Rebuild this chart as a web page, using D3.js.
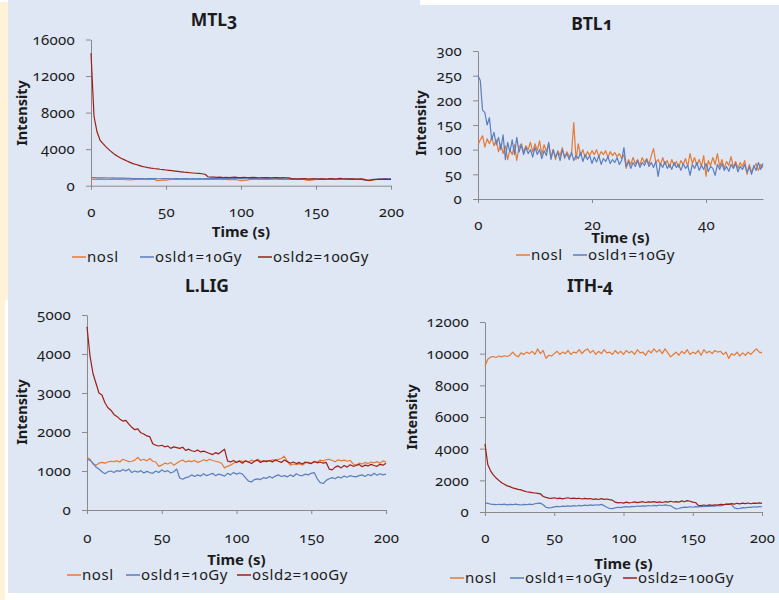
<!DOCTYPE html>
<html>
<head>
<meta charset="utf-8">
<script src="https://cdn.jsdelivr.net/npm/d3@7"></script>
<style>
body { margin: 0; background: #fff; }
svg text { font-family: "Noto Sans", sans-serif; fill: #1b1b1b; font-variant-numeric: oldstyle-nums; }
</style>
</head>
<body>
<svg id="chart" width="779" height="600"></svg>
<script>

const seriesNames = ['nosl', 'osld1=10Gy', 'osld2=100Gy'];
const seriesColors = ['#e47a36', '#5a7ec0', '#9e1e16'];

// MTL3 - one value every 2 s
const mtlStep = 2;
const mtlXMax = 200;
const mtlXTicks = [0, 50, 100, 150, 200];
const mtlYTicks = [0, 4000, 8000, 12000, 16000];
const mtlNosl = [
720,700,690,710,700,680,700,720,690,700,
710,690,650,640,660,700,690,710,700,680,
690,700,560,580,600,620,650,680,700,690,
700,710,690,680,700,690,710,700,680,700,
690,700,710,690,700,680,660,650,700,620,
560,580,620,680,700,710,690,700,680,690,
700,720,710,690,700,680,700,690,710,700,
680,690,600,580,640,680,700,710,690,700,
720,700,690,710,700,690,720,700,690,700,
710,690,580,560,620,680,700,720,700,690,
700];
const mtlOsld1 = [
900,880,860,870,850,860,840,850,830,840,
820,830,810,800,780,790,770,780,760,770,
780,790,770,760,780,770,790,760,770,780,
760,770,780,760,770,750,770,760,780,770,
790,780,800,790,780,770,790,780,800,790,
770,780,760,770,780,790,770,760,780,770,
780,760,770,780,750,760,740,730,750,740,
760,740,730,720,740,760,750,740,730,720,
740,750,730,720,710,730,760,740,720,700,
690,620,610,650,700,720,740,760,780,790,
790];
const mtlOsld2 = [
14500,7600,5900,5000,4600,4250,3950,3650,3400,3200,
3000,2850,2700,2550,2420,2320,2220,2120,2050,1980,
1920,1880,1850,1800,1760,1720,1680,1640,1600,1560,
1520,1480,1450,1420,1390,1360,1340,1310,1250,980,
930,940,910,930,900,920,890,910,930,900,
890,920,900,880,910,890,870,900,880,900,
870,890,880,860,880,870,850,740,760,730,
750,770,740,720,760,740,730,750,720,740,
770,730,750,800,760,740,720,750,730,710,
740,700,580,600,650,680,700,690,710,680,
700];

// BTL1 - one value every 0.4 s
const btlStep = 0.4;
const btlXMax = 50;
const btlXTicks = [0, 20, 40];
const btlYTicks = [0, 50, 100, 150, 200, 250, 300];
const btlNosl = [
110,120,128,105,122,112,125,108,120,96,
112,92,108,80,100,90,110,78,105,112,
95,108,100,115,95,112,98,118,90,110,
96,112,85,100,80,98,88,104,82,96,
86,90,155,80,112,88,100,84,96,88,
98,90,100,86,96,90,98,84,96,88,
94,86,92,82,90,62,80,70,84,72,
80,68,84,74,82,70,88,102,74,80,
68,84,70,78,64,80,68,76,64,78,
70,82,66,92,72,84,68,80,66,88,
46,78,68,84,70,92,66,80,62,76,
68,86,64,76,62,74,66,78,50,70,
54,64,72,58,70,64];
const btlOsld1 = [
250,240,180,175,150,165,120,135,110,125,
100,130,80,115,95,120,90,125,95,110,
90,105,92,100,85,105,90,100,82,98,
88,115,80,100,85,95,78,100,85,92,
80,95,78,88,82,95,76,90,80,88,
72,85,75,88,70,82,76,86,72,80,
74,84,70,78,104,66,76,62,74,66,
78,64,74,68,80,66,74,64,76,46,
72,64,76,62,70,60,74,64,70,58,
72,62,68,48,70,62,74,58,68,60,
72,56,66,62,48,70,60,72,58,66,
56,70,62,72,55,66,60,70,54,65,
50,68,58,74,60,72];

// L.LIG - one value every 2 s
const ligStep = 2;
const ligXMax = 200;
const ligXTicks = [0, 50, 100, 150, 200];
const ligYTicks = [0, 1000, 2000, 3000, 4000, 5000];
const ligNosl = [
1350,1300,1180,1150,1200,1220,1200,1230,1250,1240,
1260,1230,1300,1270,1240,1250,1280,1350,1270,1300,
1260,1320,1250,1230,1120,1150,1200,1180,1220,1150,
1200,1250,1280,1230,1260,1240,1270,1220,1250,1290,
1260,1300,1270,1250,1230,1200,1080,1120,1150,1200,
1230,1270,1240,1260,1230,1280,1250,1300,1260,1240,
1270,1250,1290,1260,1300,1320,1380,1250,1150,1180,
1160,1190,1150,1200,1230,1200,1250,1230,1280,1260,
1290,1300,1270,1240,1290,1260,1280,1250,1270,1180,
1150,1200,1180,1220,1190,1230,1210,1240,1200,1260,
1230];
const ligOsld1 = [
1300,1280,1200,1100,1050,980,930,980,1000,960,
1010,990,1040,1000,1050,960,1000,970,1010,950,
990,960,940,1000,960,1030,980,1010,950,980,
1050,820,790,830,850,900,860,900,870,930,
880,910,940,880,920,900,870,940,900,960,
920,950,920,830,740,720,780,800,780,830,
810,860,820,870,900,860,880,850,900,860,
930,890,880,920,900,940,960,800,700,680,
760,800,830,800,850,820,870,840,880,860,
850,880,900,860,910,880,940,890,930,900,
920];
const ligOsld2 = [
4700,3950,3500,3250,3000,2950,2750,2620,2560,2450,
2400,2330,2280,2300,2200,2120,2060,2080,1980,1950,
1900,1880,1700,1660,1640,1660,1620,1640,1580,1620,
1600,1580,1610,1530,1560,1520,1500,1540,1490,1510,
1480,1450,1420,1470,1440,1500,1560,1260,1230,1270,
1220,1250,1200,1260,1230,1190,1250,1280,1220,1260,
1240,1270,1230,1290,1250,1220,1280,1240,1200,1230,
1190,1220,1180,1230,1210,1190,1240,1210,1230,1200,
1220,1050,1030,1100,1130,1080,1140,1100,1160,1120,
1140,1170,1110,1150,1130,1170,1140,1120,1170,1150,
1200];

// ITH-4 - one value every 2 s
const ithStep = 2;
const ithXMax = 200;
const ithXTicks = [0, 50, 100, 150, 200];
const ithYTicks = [0, 2000, 4000, 6000, 8000, 10000, 12000];
const ithNosl = [
9200,9650,9780,9820,9760,9850,9800,9870,9820,9900,
10100,9900,9800,10050,9950,10100,10000,10150,9950,10300,
10000,10200,9700,9900,9850,10000,10150,9950,10100,10000,
10200,9950,10100,10050,10250,10000,10200,10300,10050,10200,
9950,10150,10000,10250,10050,10100,9950,10200,10000,10150,
9950,10200,10050,10150,9950,10250,10050,10100,9900,10200,
10050,10300,10100,10250,10000,10300,10050,9800,9950,10100,
9900,10150,10000,10250,9950,10100,10000,10200,9900,10250,
10050,10150,10000,10200,10100,10150,9950,10100,9700,10000,
9900,10100,9850,10050,9900,10100,9950,10150,10300,10100,
10050];
const ithOsld1 = [
580,550,500,480,460,490,470,500,450,480,
460,500,470,440,480,460,500,470,520,540,
560,460,300,260,280,320,350,330,370,350,
390,360,400,380,420,390,430,400,450,420,
460,430,480,400,300,220,210,260,300,280,
320,340,310,360,340,380,350,390,370,410,
380,420,390,440,410,450,420,400,280,200,
220,280,310,290,330,300,340,320,360,330,
370,350,390,370,410,380,440,480,510,460,
260,210,230,280,260,300,290,330,310,340,
330];
const ithOsld2 = [
4300,3000,2600,2350,2150,2000,1850,1750,1650,1600,
1520,1480,1430,1400,1330,1280,1250,1220,1200,1180,
1150,980,920,880,860,900,850,880,830,870,
900,850,880,840,870,820,860,830,850,800,
830,790,840,800,820,780,750,620,580,600,
560,620,580,600,640,590,620,650,600,640,
620,660,610,640,600,650,620,680,630,660,
620,700,650,720,680,620,600,420,400,440,
410,450,420,460,430,480,460,500,480,530,
500,550,510,560,530,570,520,560,540,580,
550];

const svg = d3.select('#chart');

// slide background
svg.append('rect').attr('x', 0).attr('y', 2).attr('width', 8).attr('height', 298).attr('fill', '#fef3d6');
svg.append('rect').attr('x', 0).attr('y', 300).attr('width', 5).attr('height', 300).attr('fill', '#fef3d6');
svg.append('rect').attr('x', 8).attr('y', 0).attr('width', 771).attr('height', 593).attr('fill', '#dfe7f4');
svg.append('rect').attr('x', 420).attr('y', 0).attr('width', 359).attr('height', 5).attr('fill', '#ffffff');

const panels = [
  {title: 'MTL3', step: mtlStep, series: [mtlNosl, mtlOsld1, mtlOsld2], xMax: mtlXMax, xTicks: mtlXTicks, yTicks: mtlYTicks,
   x0: 91, x1: 391, yTop: 39.5, yBot: 185.7, titleX: 214, titleY: 26, xLabY: 217, timeY: 237,
   legY: 257, legX: [72, 140, 258], intX: 27, intY: 113},
  {title: 'BTL1', step: btlStep, series: [btlNosl, btlOsld1], xMax: btlXMax, xTicks: btlXTicks, yTicks: btlYTicks,
   x0: 478, x1: 763, yTop: 51, yBot: 199, titleX: 592, titleY: 30, xLabY: 230, timeY: 243,
   legY: 255, legX: [516, 573], intX: 426, intY: 123},
  {title: 'L.LIG', step: ligStep, series: [ligNosl, ligOsld1, ligOsld2], xMax: ligXMax, xTicks: ligXTicks, yTicks: ligYTicks,
   x0: 87, x1: 386, yTop: 315, yBot: 510, titleX: 207, titleY: 292, xLabY: 543, timeY: 565,
   legY: 575, legX: [67, 126, 237], intX: 27, intY: 412},
  {title: 'ITH-4', step: ithStep, series: [ithNosl, ithOsld1, ithOsld2], xMax: ithXMax, xTicks: ithXTicks, yTicks: ithYTicks,
   x0: 485, x1: 762, yTop: 322, yBot: 512, titleX: 590, titleY: 292, xLabY: 543, timeY: 569,
   legY: 578, legX: [450, 510, 623], intX: 417, intY: 417}
];

const makeChart = (p) => {

  let g = svg.append('g');

  let x = d3.scaleLinear()
  .domain([0, p.xMax])
  .range([p.x0, p.x1]);

  let y = d3.scaleLinear()
  .domain([0, p.yTicks[p.yTicks.length - 1]])
  .range([p.yBot, p.yTop]);

  g.append('text')
  .attr('x', p.titleX)
  .attr('y', p.titleY)
  .attr('text-anchor', 'middle')
  .attr('font-size', 17.5)
  .attr('font-weight', 'bold')
  .text(p.title);

  const yAxis = g.append('g')
  .attr('transform', 'translate(' + p.x0 + ',0)')
  .call(d3.axisLeft(y)
    .tickValues(p.yTicks)
    .tickSize(5)
    .tickSizeOuter(0)
    .tickPadding(11)
    .tickFormat(d3.format('d'))
  );

  const xAxis = g.append('g')
  .attr('transform', 'translate(0,' + p.yBot + ')')
  .call(d3.axisBottom(x)
    .tickValues(p.xTicks)
    .tickSize(4)
    .tickSizeOuter(0)
  );

  xAxis.selectAll('.tick text')
  .attr('y', p.xLabY - p.yBot)
  .attr('dy', 0);

  [xAxis, yAxis].forEach(a => {
    a.selectAll('.tick text').attr('font-size', 15).attr('letter-spacing', 0.3).attr('font-family', null).attr('fill', '#1b1b1b');
    a.selectAll('.tick line').attr('stroke', '#8a8a8a');
    a.select('.domain').attr('stroke', '#8a8a8a');
  });

  g.append('text')
  .attr('x', (p.x0 + p.x1) / 2)
  .attr('y', p.timeY)
  .attr('text-anchor', 'middle')
  .attr('font-size', 15)
  .attr('font-weight', 'bold')
  .text('Time (s)');

  g.append('text')
  .attr('transform', 'translate(' + p.intX + ',' + p.intY + ') rotate(-90)')
  .attr('text-anchor', 'middle')
  .attr('font-size', 14.5)
  .attr('font-weight', 'bold')
  .text('Intensity');

  let line = d3.line()
  .x((d, i) => x(i * p.step))
  .y(d => y(d));

  p.series.forEach((s, k) => {
    g.append('path')
    .datum(s)
    .attr('d', line)
    .attr('fill', 'none')
    .attr('stroke', seriesColors[k])
    .attr('stroke-width', 1.2)
    .attr('stroke-linejoin', 'round');
  });

  p.series.forEach((s, k) => {
    let lx = p.legX[k];
    g.append('line')
    .attr('x1', lx)
    .attr('x2', lx + 14)
    .attr('y1', p.legY)
    .attr('y2', p.legY)
    .attr('stroke', seriesColors[k])
    .attr('stroke-width', 1.5);

    g.append('text')
    .attr('x', lx + 15)
    .attr('y', p.legY + 4.5)
    .attr('font-size', 15)
    .attr('letter-spacing', 0.6)
    .text(seriesNames[k]);
  });
}

panels.forEach(p => makeChart(p));

</script>
</body>
</html>
